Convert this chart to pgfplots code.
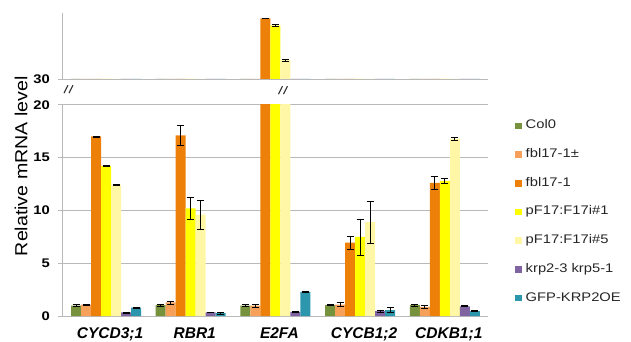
\documentclass[border=0pt]{standalone}
\usepackage{fontspec}
\setmainfont{Liberation Sans}[FakeStretch=1.18]
\newfontfamily\plainsans{Liberation Sans}
\newfontfamily\ylabfont{Liberation Sans}[FakeStretch=1.12]
\usepackage{pgfplots}
\pgfplotsset{compat=1.18}
\usepackage{pgfplotstable}

\definecolor{cCol}{RGB}{118,146,60}
\definecolor{cHet}{RGB}{247,160,90}
\definecolor{cFbl}{RGB}{236,128,8}
\definecolor{cFa}{RGB}{255,255,0}
\definecolor{cFb}{RGB}{255,247,165}
\definecolor{cKrp}{RGB}{128,100,162}
\definecolor{cGfp}{RGB}{43,150,172}
\definecolor{axgray}{RGB}{185,185,185}

\pgfplotstableread{
x y e
0 1.00 0.10
1 1.04 0.08
2 1.00 0.10
3 1.04 0.06
4 1.04 0.08
}\tCol
\pgfplotstableread{
x y e
0 1.10 0.06
1 1.30 0.15
2 1.00 0.15
3 1.10 0.20
4 0.88 0.15
}\tHet
\pgfplotstableread{
x y e
0 17.0 0.05
1 17.1 0.90
2 48.4 0.10
3 6.95 0.60
4 12.6 0.63
}\tFbl
\pgfplotstableread{
x y e
0 14.2 0.05
1 10.2 1.00
2 46.2 0.30
3 7.5 1.70
4 12.8 0.20
}\tFa
\pgfplotstableread{
x y e
0 12.4 0.05
1 9.6 1.40
2 35.7 0.30
3 8.9 2.00
4 16.8 0.15
}\tFb
\pgfplotstableread{
x y e
0 0.35 0.05
1 0.35 0.03
2 0.40 0.03
3 0.47 0.10
4 0.94 0.05
}\tKrp
\pgfplotstableread{
x y e
0 0.82 0.05
1 0.30 0.08
2 2.30 0.04
3 0.57 0.25
4 0.47 0.04
}\tGfp

\pgfplotsset{
  mybar/.style={fill=#1, draw=none,
    legend image code/.code={\fill[fill=#1] (0bp,-3.25bp) rectangle (6.5bp,3.25bp);},
    error bars/.cd, y dir=both, y explicit,
    error bar style={black, line width=0.7bp},
    error mark options={black, line width=0.7bp, mark size=3.5bp, rotate=90}},
  common/.style={
    scale only axis, width=426bp,
    xmin=-0.52, xmax=4.51,
    ybar=0pt, bar width=10bp,
    axis x line*=bottom, axis y line*=left,
    axis line style={-, draw=axgray, line width=0.9bp},
    xtick style={draw=none},
    ytick style={draw=axgray, line width=0.9bp},
    tick align=outside, major tick length=4bp,
    /pgf/number format/assume math mode=true,
    yticklabel style={font=\fontsize{12.5bp}{14bp}\selectfont\bfseries, inner sep=0pt, xshift=-8bp},
  },
}

\begin{document}
\begin{tikzpicture}
\useasboundingbox (-62bp,-25.8bp) rectangle (569bp,316.2bp);
\begin{axis}[common,
  at={(0,0)}, anchor=south west,
  height=211.5bp,
  ymin=0, ymax=20, ytick={0,5,10,15,20},
  ymajorgrids, grid style={draw=axgray, line width=0.9bp},
  xtick={0,1,2,3,4},
  xticklabels={CYCD3;1,RBR1,E2FA,CYCB1;2,CDKB1;1},
  xticklabel style={font=\plainsans\fontsize{15.5bp}{17bp}\selectfont\bfseries\itshape, inner sep=0pt, text height=11bp, text depth=0pt, anchor=north, yshift=-7.3bp, xshift=4bp},
  ylabel={Relative mRNA level},
  ylabel style={at={(rel axis cs:-0.0962,0.709)}, rotate=0, anchor=center, font=\ylabfont\fontsize{17.5bp}{19bp}\selectfont},
  legend style={at={(1.0634,0.4927)}, anchor=west, draw=none, fill=none, inner sep=0pt,
    row sep=16.7bp, font=\fontsize{12.5bp}{14bp}\selectfont, text=black!85,
    nodes={inner sep=0pt, text height=9bp, text depth=3bp},
    /tikz/every odd column/.style={column sep=4bp}},
  legend cell align=left,
]
\addplot[mybar=cCol] table[x=x,y=y,y error=e]{\tCol};
\addlegendentry{Col0}
\addplot[mybar=cHet] table[x=x,y=y,y error=e]{\tHet};
\addlegendentry{fbl17-1±}
\addplot[mybar=cFbl] table[x=x,y=y,y error=e]{\tFbl};
\addlegendentry{fbl17-1}
\addplot[mybar=cFa] table[x=x,y=y,y error=e]{\tFa};
\addlegendentry{pF17:F17i\#1}
\addplot[mybar=cFb] table[x=x,y=y,y error=e]{\tFb};
\addlegendentry{pF17:F17i\#5}
\addplot[mybar=cKrp] table[x=x,y=y,y error=e]{\tKrp};
\addlegendentry{krp2-3 krp5-1}
\addplot[mybar=cGfp] table[x=x,y=y,y error=e]{\tGfp};
\addlegendentry{GFP-KRP2OE}
\end{axis}
\begin{axis}[common,
  at={(0,237.2bp)}, anchor=south west,
  height=66bp,
  ymin=30, ymax=50, ytick={30},
  xtick={0,1,2,3,4}, xticklabels={},
]
\addplot[mybar=cCol] table[x=x,y=y,y error=e]{\tCol};
\addplot[mybar=cHet] table[x=x,y=y,y error=e]{\tHet};
\addplot[mybar=cFbl] table[x=x,y=y,y error=e]{\tFbl};
\addplot[mybar=cFa] table[x=x,y=y,y error=e]{\tFa};
\addplot[mybar=cFb] table[x=x,y=y,y error=e]{\tFb};
\addplot[mybar=cKrp] table[x=x,y=y,y error=e]{\tKrp};
\addplot[mybar=cGfp] table[x=x,y=y,y error=e]{\tGfp};
\end{axis}
\begin{scope}[line width=1.1bp, black!80]
\draw (2.0bp,223bp) -- (6.0bp,231bp);
\draw (7.0bp,223bp) -- (11.0bp,231bp);
\draw (216.5bp,222bp) -- (220.5bp,230bp);
\draw (221.5bp,222bp) -- (225.5bp,230bp);
\end{scope}
\end{tikzpicture}
\end{document}
